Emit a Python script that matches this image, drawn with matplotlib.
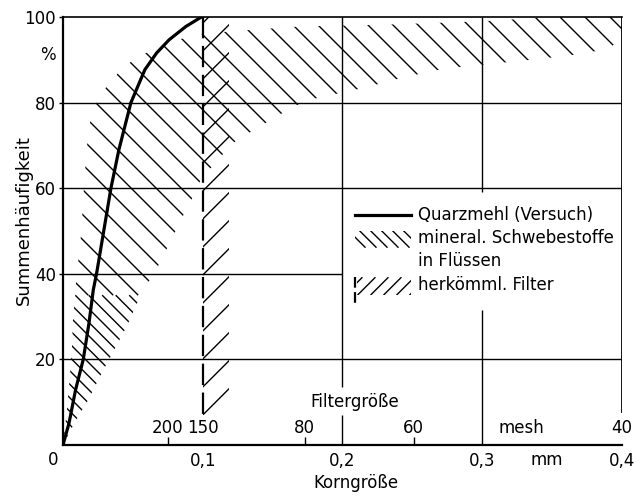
import numpy as np
import matplotlib.pyplot as plt
from matplotlib.patches import Polygon
from matplotlib.collections import LineCollection

plt.rcParams['font.family'] = 'DejaVu Sans'
plt.rcParams['font.size'] = 12

# Quarzmehl (Versuch), cumulative curve
quarz_mm = [0, 0.0043, 0.009, 0.0145, 0.0186, 0.0217, 0.024, 0.0343, 0.040,
            0.0486, 0.0586, 0.067, 0.076, 0.088, 0.099]
quarz_pct = [0, 5.1, 12.9, 20, 28.5, 36.3, 40, 60, 69, 80, 87.7, 91.6, 94.7,
             97.8, 100]

# mineral. Schwebestoffe in Flüssen: upper/left and lower/right limits of the band
sch_upper_mm = [0, 0.0026, 0.005, 0.0064, 0.0071, 0.0086, 0.0098, 0.012, 0.0133,
                0.0143, 0.0157, 0.0169, 0.019, 0.024, 0.032, 0.043, 0.054,
                0.0705, 0.082, 0.1, 0.118, 0.135, 0.17, 0.23, 0.3, 0.35, 0.4]
sch_upper_pct = [0, 7.5, 16.4, 22.7, 29.2, 34.6, 40.2, 45.6, 51, 56.9, 63.6, 69,
                 75, 80, 84.2, 88.2, 90.8, 93.2, 94.7, 96, 96.6, 97, 97.8, 98.2,
                 99, 100, 100]
sch_lower_mm = [0, 0.0086, 0.018, 0.028, 0.034, 0.046, 0.057, 0.066, 0.073,
                0.079, 0.085, 0.093, 0.1, 0.11, 0.119, 0.131, 0.154, 0.168,
                0.181, 0.216, 0.245, 0.274, 0.305, 0.335, 0.362, 0.39, 0.4]
sch_lower_pct = [0, 5.4, 10.5, 17, 20.6, 28, 36, 40.5, 45, 49, 53, 58, 63, 66,
                 70, 72.5, 77, 79.5, 81, 83.5, 86, 88, 89, 90, 91, 92.5, 95]

# herkömmliche Filter: strip from 0.1 mm
filter_mm = [0.1, 0.119]
filter_pct = [7, 100]

# Filtergröße in mesh on the mm scale
mesh_mm = [0.075, 0.1, 0.173, 0.251, 0.4]
mesh_labels = ['200', '150', '80', '60', '40']

xticks = [0.1, 0.2, 0.3, 0.4]
xtick_labels = ['0,1', '0,2', '0,3', '0,4']
yticks = [20, 40, 60, 80, 100]


def hatch(ax, xs, ys, gap, slope, ylo=None, yhi=None, lw=1.0):
    """Draw 45 degree hatch lines (gap in pixels) clipped to a polygon."""
    pts = np.column_stack([xs, ys])
    poly = Polygon(pts, closed=True, facecolor='none', edgecolor='none')
    ax.add_patch(poly)
    tr = ax.transData
    px = tr.transform(pts)
    c = px[:, 1] - slope * px[:, 0]
    lo, hi = px[:, 1].min(), px[:, 1].max()
    if ylo is not None:
        lo = max(lo, tr.transform((0, ylo))[1])
    if yhi is not None:
        hi = min(hi, tr.transform((0, yhi))[1])
    k0 = np.floor((c.min() - c[0]) / gap)
    k1 = np.ceil((c.max() - c[0]) / gap)
    segs = []
    for k in np.arange(k0, k1 + 1):
        cc = c[0] + k * gap
        a = ((lo - cc) / slope, lo)
        b = ((hi - cc) / slope, hi)
        segs.append(tr.inverted().transform([a, b]))
    lc = LineCollection(segs, colors='k', linewidths=lw)
    lc.set_clip_path(poly)
    ax.add_collection(lc, autolim=False)


fig = plt.figure(figsize=(6.35, 4.96), dpi=100)
ax = fig.add_axes([63 / 635, 51 / 496, 559 / 635, 428 / 496])
ax.set_xlim(0, 0.4)
ax.set_ylim(0, 100)
ax.set_autoscale_on(False)

# grid, broken where the legend and labels sit
gkw = dict(color='k', lw=1.0)
ax.hlines([20, 60, 80], 0, 0.4, **gkw)
ax.hlines(40, 0, 0.2, **gkw)
ax.vlines(0.2, 13.6, 100, **gkw)
ax.vlines(0.2, 0, 7, **gkw)
ax.vlines(0.3, 59, 100, **gkw)
ax.vlines(0.3, 0, 31.6, **gkw)
ax.vlines(0.4, 7.5, 100, lw=1.3, color='k')

# Schwebestoffe band
band_x = sch_upper_mm + sch_lower_mm[::-1]
band_y = sch_upper_pct + sch_lower_pct[::-1]
hatch(ax, band_x, band_y, 13.5, -1, yhi=35)
hatch(ax, band_x, band_y, 25, -1, ylo=35)

# Filter strip
fx = [filter_mm[0], filter_mm[1], filter_mm[1], filter_mm[0]]
fy = [filter_pct[0], filter_pct[0], filter_pct[1], filter_pct[1]]
hatch(ax, fx, fy, 28, 1)
ax.plot([filter_mm[0]] * 2, filter_pct[::-1], color='k', lw=1.6,
        ls=(0, (9.6, 3.4)))

# Quarzmehl curve
ax.plot(quarz_mm, quarz_pct, color='k', lw=2.3, solid_capstyle='round')

# legend
lx0, lx1, tx = 0.2086, 0.249, 0.2538
rows = [53.8, 48.3, 42.9, 37.4]
ax.plot([lx0, lx1], [rows[0]] * 2, color='k', lw=2.3)
hatch(ax, [lx0, lx1, lx1, lx0], [46.1, 46.1, 50.1, 50.1], 11, -1)
hatch(ax, [0.2107, lx1, lx1, 0.2107], [35, 35, 39.2, 39.2], 13, 1)
ax.plot([lx0, lx0], [39.2, 33.2], color='k', lw=1.6, ls=(0, (4.8, 2.0)))
legend_text = ['Quarzmehl (Versuch)', 'mineral. Schwebestoffe', 'in Flüssen',
               'herkömml. Filter']
for y, t in zip(rows, legend_text):
    ax.text(tx, y, t, ha='left', va='center')

# spines and ticks
for s in ['left', 'bottom']:
    ax.spines[s].set_linewidth(1.6)
ax.spines['top'].set_linewidth(1.2)
ax.spines['right'].set_visible(False)

ax.set_yticks(yticks, labels=[str(v) for v in yticks])
ax.tick_params(axis='y', direction='out', length=3, width=1, pad=2)
ax.set_xticks(xticks, labels=xtick_labels)
ax.tick_params(axis='x', which='major', length=0, pad=5)
ax.set_xticks(mesh_mm, minor=True)
ax.tick_params(axis='x', which='minor', direction='in', length=6, width=1)

for m, lab in zip(mesh_mm, mesh_labels):
    ax.text(m, 4, lab, ha='center', va='center')
ax.text(0.328, 4, 'mesh', ha='center', va='center')
ax.text(0.2086, 10, 'Filtergröße', ha='center', va='center')
ax.text(0.3464, -3.5, 'mm', ha='center', va='center', clip_on=False)
ax.text(-0.0074, -3.5, '0', ha='center', va='center', clip_on=False)
ax.text(-0.0107, 91.2, '%', ha='center', va='center', clip_on=False)

ax.set_xlabel('Korngröße')
ax.xaxis.set_label_coords(0.524, -0.068)
ax.set_ylabel('Summenhäufigkeit', fontsize=13)
ax.yaxis.set_label_coords(-0.054, 0.5245)

fig.savefig('out.png', dpi=100)
